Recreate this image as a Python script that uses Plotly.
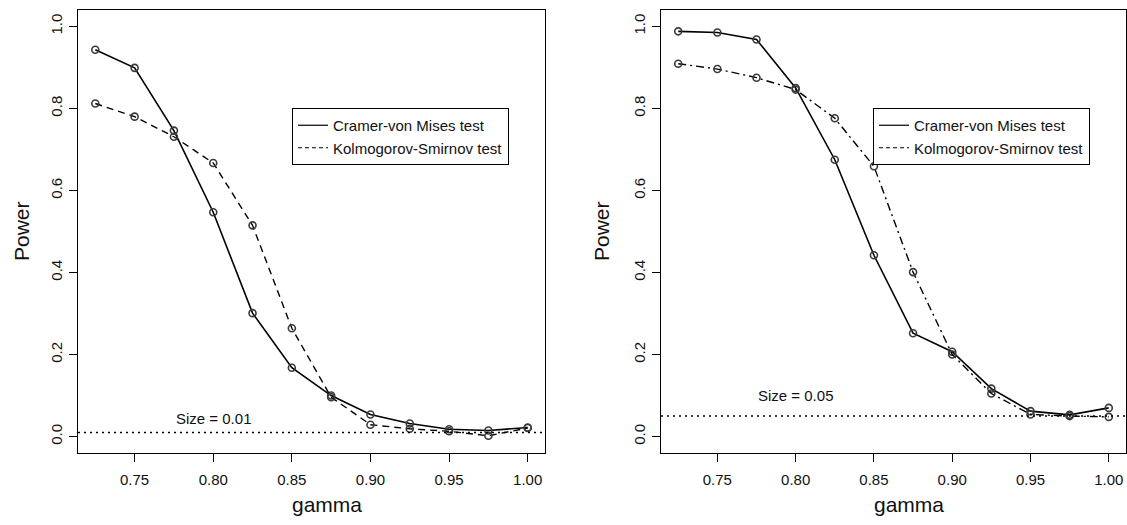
import plotly.graph_objects as go

gamma = [0.725, 0.75, 0.775, 0.80, 0.825, 0.85, 0.875, 0.90, 0.925, 0.95, 0.975, 1.00]

# Left panel (size = 0.01)
cvm_01 = [0.943, 0.899, 0.746, 0.547, 0.301, 0.168, 0.100, 0.054, 0.032, 0.018, 0.015, 0.022]
ks_01 = [0.812, 0.780, 0.731, 0.667, 0.515, 0.264, 0.096, 0.029, 0.019, 0.013, 0.002, 0.021]
size_01 = 0.01

# Right panel (size = 0.05)
cvm_05 = [0.988, 0.985, 0.968, 0.850, 0.675, 0.442, 0.252, 0.207, 0.117, 0.062, 0.053, 0.070]
ks_05 = [0.909, 0.896, 0.875, 0.846, 0.776, 0.659, 0.401, 0.200, 0.105, 0.054, 0.050, 0.048]
size_05 = 0.05

x_ticks = [0.75, 0.80, 0.85, 0.90, 0.95, 1.00]
y_ticks = [0.0, 0.2, 0.4, 0.6, 0.8, 1.0]
legend_names = ["Cramer-von Mises test", "Kolmogorov-Smirnov test"]

FONT = "Liberation Sans, Arial, Helvetica, sans-serif"
W, H = 1127, 525

fig = go.Figure()

marker = dict(symbol="circle-open", size=7, color="#3a3a3a", line=dict(width=1.6))

def add_panel(xa, ya, cvm, ks, ks_dash, legend_id):
    fig.add_trace(go.Scatter(x=gamma, y=cvm, mode="lines+markers", xaxis=xa, yaxis=ya,
                             line=dict(color="black", width=1.6), marker=marker,
                             showlegend=False))
    fig.add_trace(go.Scatter(x=gamma, y=ks, mode="lines+markers", xaxis=xa, yaxis=ya,
                             line=dict(color="black", width=1.4, dash=ks_dash), marker=marker,
                             showlegend=False))
    # legend-only entries
    fig.add_trace(go.Scatter(x=[None], y=[None], mode="lines", xaxis=xa, yaxis=ya,
                             line=dict(color="black", width=1.2), name=legend_names[0],
                             legend=legend_id))
    fig.add_trace(go.Scatter(x=[None], y=[None], mode="lines", xaxis=xa, yaxis=ya,
                             line=dict(color="black", width=1.2, dash="4px,3px"), name=legend_names[1],
                             legend=legend_id))

add_panel("x", "y", cvm_01, ks_01, "7px,5px", "legend")
add_panel("x2", "y2", cvm_05, ks_05, "8px,4px,2px,4px", "legend2")

xrange = [0.714, 1.011]
yrange = [-0.04, 1.04]
ydom = [1 - 453 / H, 1 - 10 / H]

axis_common = dict(showgrid=False, zeroline=False, showline=True, mirror=True,
                   linecolor="black", linewidth=1, ticks="outside", ticklen=8,
                   tickcolor="black", tickwidth=1,
                   tickfont=dict(family=FONT, size=15, color="#111"))

fig.update_layout(
    xaxis=dict(domain=[78 / W, 545 / W], range=xrange, tickvals=x_ticks, tickformat=".2f",
               anchor="y", ticklabelstandoff=5, **axis_common),
    yaxis=dict(domain=ydom, range=yrange, tickvals=y_ticks, tickformat=".1f",
               tickangle=-90, anchor="x", ticklabelstandoff=1, **axis_common),
    xaxis2=dict(domain=[661 / W, 1126 / W], range=xrange, tickvals=x_ticks, tickformat=".2f",
                anchor="y2", ticklabelstandoff=5, **axis_common),
    yaxis2=dict(domain=ydom, range=yrange, tickvals=y_ticks, tickformat=".1f",
                tickangle=-90, anchor="x2", ticklabelstandoff=1, **axis_common),
    legend=dict(x=292 / W, y=1 - 108 / H, xanchor="left", yanchor="top",
                bgcolor="white", bordercolor="black", borderwidth=1,
                font=dict(family=FONT, size=15, color="#111"), tracegroupgap=0),
    legend2=dict(x=873 / W, y=1 - 108 / H, xanchor="left", yanchor="top",
                 bgcolor="white", bordercolor="black", borderwidth=1,
                 font=dict(family=FONT, size=15, color="#111"), tracegroupgap=0),
    width=W, height=H,
    margin=dict(l=0, r=0, t=0, b=0),
    paper_bgcolor="white", plot_bgcolor="white",
    font=dict(family=FONT, color="#111"),
)

# size reference lines
for xr, yr, s in [("x", "y", size_01), ("x2", "y2", size_05)]:
    fig.add_shape(type="line", xref=f"{xr} domain", yref=yr, x0=0, x1=1, y0=s, y1=s,
                  line=dict(color="black", width=1.5, dash="2px,4px"))

fig.add_annotation(x=0.80, y=0.045, xref="x", yref="y", text="Size = 0.01", showarrow=False,
                   xanchor="center", yanchor="middle",
                   font=dict(family=FONT, size=15, color="#111"))
fig.add_annotation(x=0.80, y=0.10, xref="x2", yref="y2", text="Size = 0.05", showarrow=False,
                   xanchor="center", yanchor="middle",
                   font=dict(family=FONT, size=15, color="#111"))

# axis titles
for px in [22, 602]:
    fig.add_annotation(x=px / W, y=1 - 231 / H, xref="paper", yref="paper", text="Power",
                       textangle=-90, showarrow=False, xanchor="center", yanchor="middle",
                       font=dict(family=FONT, size=21, color="#111"))
for px in [327, 909]:
    fig.add_annotation(x=px / W, y=1 - 504 / H, xref="paper", yref="paper", text="gamma",
                       showarrow=False, xanchor="center", yanchor="middle",
                       font=dict(family=FONT, size=21, color="#111"))

fig.write_html("out.html")
